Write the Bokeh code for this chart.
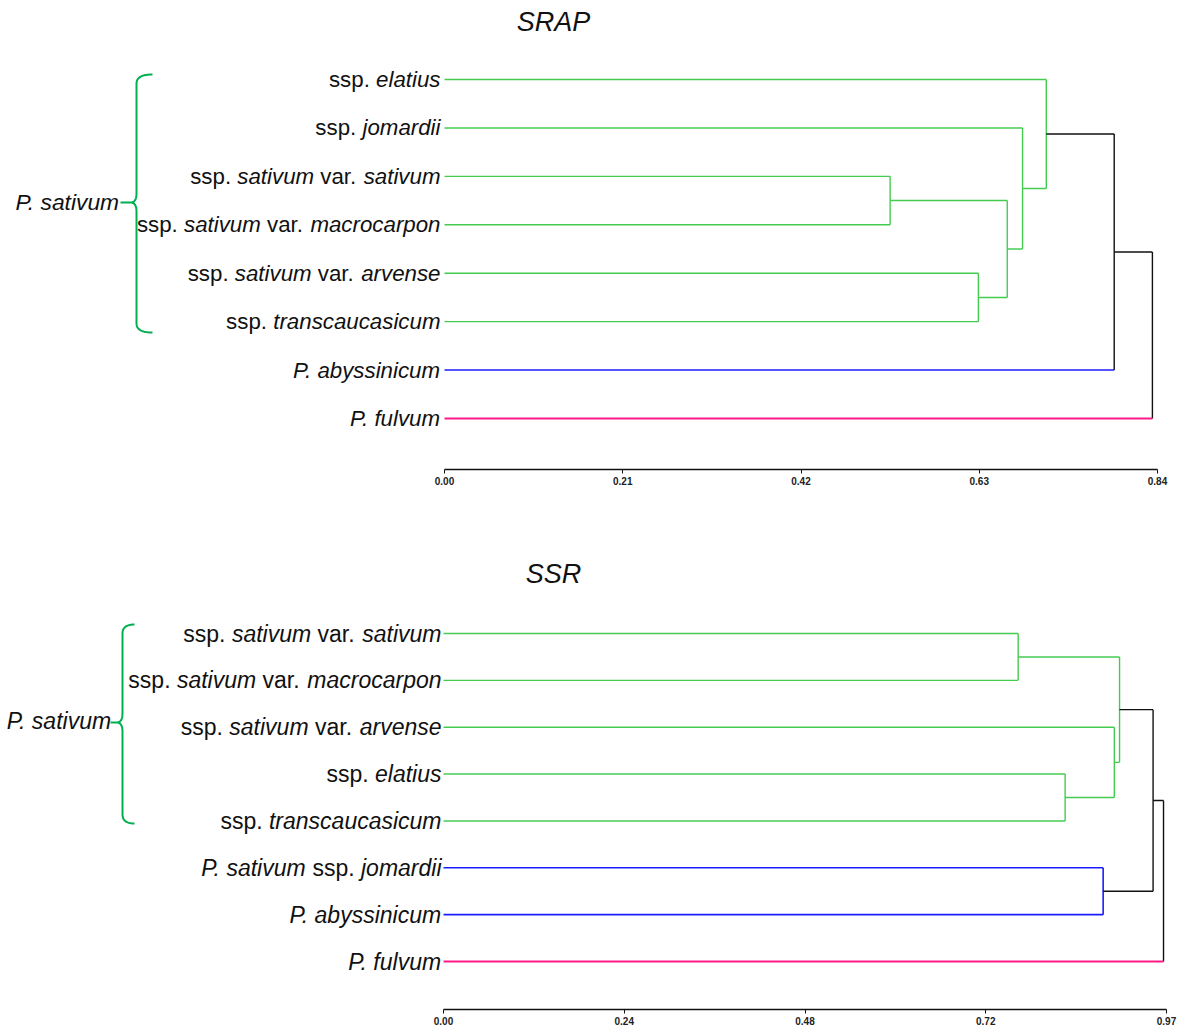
import numpy as np
from bokeh.plotting import figure
from bokeh.models import ColumnDataSource, LinearAxis, FixedTicker, Range1d
from bokeh.layouts import column
from bokeh.core.properties import value
from bokeh.embed import file_html
from bokeh.resources import INLINE

FONT = "Liberation Sans"
GREEN = "#44cc50"
BLUE = "#1c1cff"
PINK = "#ff1a88"
BLACK = "#111111"
BRACE_GREEN = "#00b050"
COLORS = {"g": GREEN, "b": BLUE, "p": PINK, "k": BLACK}
WIDTHS = {"g": 1.4, "b": 1.6, "p": 2.0, "k": 1.4}

PAGE_W = 1186

# ---------------- SRAP data ----------------
srap_title = "SRAP"
srap_leaves = ["ssp. *elatius*", "ssp. *jomardii*", "ssp. *sativum* var. *sativum*",
               "ssp. *sativum* var. *macrocarpon*", "ssp. *sativum* var. *arvense*",
               "ssp. *transcaucasicum*", "*P. abyssinicum*", "*P. fulvum*"]
srap_leaf_colors = ["g", "g", "g", "g", "g", "g", "b", "p"]
srap_merge_a = [2, 4, 8, 1, 0, 12, 13]
srap_merge_b = [3, 5, 9, 10, 11, 6, 7]
srap_heights = [0.525, 0.629, 0.663, 0.681, 0.709, 0.789, 0.834]
srap_merge_colors = ["g", "g", "g", "g", "g", "k", "k"]
srap_tick_pos = [0.0, 0.21, 0.42, 0.63, 0.84]
srap_tick_labels = ["0.00", "0.21", "0.42", "0.63", "0.84"]

# ---------------- SSR data ----------------
ssr_title = "SSR"
ssr_leaves = ["ssp. *sativum* var. *sativum*", "ssp. *sativum* var. *macrocarpon*",
              "ssp. *sativum* var. *arvense*", "ssp. *elatius*", "ssp. *transcaucasicum*",
              "*P. sativum* ssp. *jomardii*", "*P. abyssinicum*", "*P. fulvum*"]
ssr_leaf_colors = ["g", "g", "g", "g", "g", "b", "b", "p"]
ssr_merge_a = [0, 3, 2, 8, 5, 11, 13]
ssr_merge_b = [1, 4, 9, 10, 6, 12, 7]
ssr_heights = [0.771, 0.834, 0.900, 0.907, 0.885, 0.952, 0.966]
ssr_merge_colors = ["g", "g", "g", "g", "b", "k", "k"]
ssr_tick_pos = [0.0, 0.2425, 0.485, 0.7275, 0.97]
ssr_tick_labels = ["0.00", "0.24", "0.48", "0.72", "0.97"]

group_label = "*P. sativum*"

# Arial / Liberation Sans advance widths (per 1000 em)
AW = {' ': 278, '.': 278, 'P': 667, 'a': 556, 'b': 556, 'c': 500, 'd': 556, 'e': 556,
      'f': 278, 'g': 556, 'h': 556, 'i': 222, 'j': 222, 'k': 500, 'l': 222, 'm': 833,
      'n': 556, 'o': 556, 'p': 556, 'q': 556, 'r': 333, 's': 500, 't': 278, 'u': 556,
      'v': 500, 'w': 722, 'x': 500, 'y': 500, 'z': 500}


def tw(s, size):
    w = sum(AW.get(c, 556) for c in s)
    w -= 111 * s.count("P.")  # kerning pair
    return w * size / 1000.0


def segments(label):
    parts = label.split("*")
    return [(t, i % 2 == 1) for i, t in enumerate(parts) if t]


def rich_label(p, x, y, label, size, gap):
    """Right-aligned mixed roman/italic label ending gap px left of x."""
    segs = segments(label)
    total = sum(tw(t, size) for t, _ in segs)
    cursor = -gap - total
    xs, ys, txt, offs, styles = [], [], [], [], []
    for t, it in segs:
        lead = len(t) - len(t.lstrip(" "))
        body = t.strip(" ")
        if body:
            xs.append(x); ys.append(y); txt.append(body)
            offs.append(cursor + tw(" " * lead, size))
            styles.append("italic" if it else "normal")
        cursor += tw(t, size)
    src = ColumnDataSource(dict(x=xs, y=ys, text=txt, xo=offs, fs=styles))
    p.text(x="x", y="y", text="text", x_offset="xo", source=src,
           text_font=value(FONT), text_font_size=value(f"{size}px"),
           text_font_style="fs", text_align="left", text_baseline="middle",
           text_color="#111111")


def quad(p0, c, p1, n=14):
    t = np.linspace(0, 1, n)
    x = (1 - t) ** 2 * p0[0] + 2 * (1 - t) * t * c[0] + t ** 2 * p1[0]
    y = (1 - t) ** 2 * p0[1] + 2 * (1 - t) * t * c[1] + t ** 2 * p1[1]
    return list(x), list(y)


def build(title, leaves, leaf_colors, ma, mb, heights, mcolors, tick_pos, tick_labels,
          page_top, height, frame_bottom, x0_px, x_scale, leaf0_py, leaf_dy,
          label_size, label_gap, title_py, title_size, brace, group_right, group_py,
          group_size):
    def dx(px):
        return (px - x0_px) / x_scale

    def dy(py):
        return (py - leaf0_py) / leaf_dy

    p = figure(width=PAGE_W, height=height, output_backend="svg", toolbar_location=None,
               x_range=Range1d(dx(0), dx(PAGE_W)), y_range=Range1d(dy(frame_bottom), dy(page_top)),
               x_axis_location=None, y_axis_location=None,
               min_border_left=0, min_border_right=0, min_border_top=0,
               min_border_bottom=page_top + height - frame_bottom)
    p.outline_line_color = None
    p.xgrid.visible = False
    p.ygrid.visible = False
    p.background_fill_color = "white"
    p.border_fill_color = "white"

    n = len(leaves)
    nx = [0.0] * n + list(heights)
    ny = list(range(n)) + [0.0] * len(heights)
    xs0, ys0, xs1, ys1, cols, wids = [], [], [], [], [], []
    for k, (a, b, h, c) in enumerate(zip(ma, mb, heights, mcolors)):
        ny[n + k] = (ny[a] + ny[b]) / 2.0
        xs0.append(h); ys0.append(ny[a]); xs1.append(h); ys1.append(ny[b])
        cols.append(COLORS[c]); wids.append(WIDTHS[c])
        for ch in (a, b):
            cc = leaf_colors[ch] if ch < n else c
            xs0.append(nx[ch]); ys0.append(ny[ch]); xs1.append(h); ys1.append(ny[ch])
            cols.append(COLORS[cc]); wids.append(WIDTHS[cc])
    src = ColumnDataSource(dict(x0=xs0, y0=ys0, x1=xs1, y1=ys1, c=cols, w=wids))
    p.segment(x0="x0", y0="y0", x1="x1", y1="y1", line_color="c", line_width="w",
              source=src)

    for i, lab in enumerate(leaves):
        rich_label(p, 0.0, i, lab, label_size, label_gap)

    p.text(x=[dx(553)], y=[dy(title_py)], text=[title], text_font=value(FONT),
           text_font_size=value(f"{title_size}px"), text_font_style="italic",
           text_align="center", text_baseline="middle", text_color="#111111")

    bx_end, bx, btop, bbot, tipx, tipy = brace
    r = 9
    X, Y = [], []
    x_, y_ = quad((bx_end, btop), (bx, btop), (bx, btop + r)); X += x_; Y += y_
    x_, y_ = quad((bx, tipy - r), (bx, tipy), (bx - 6, tipy)); X += x_; Y += y_
    X += [tipx]; Y += [tipy]
    X += [np.nan]; Y += [np.nan]
    x_, y_ = quad((bx - 6, tipy), (bx, tipy), (bx, tipy + r)); X += x_; Y += y_
    x_, y_ = quad((bx, bbot - r), (bx, bbot), (bx_end, bbot)); X += x_; Y += y_
    p.line([dx(v) for v in X], [dy(v) if not np.isnan(v) else np.nan for v in Y],
           line_color=BRACE_GREEN, line_width=2)

    rich_label(p, dx(group_right), dy(group_py), group_label, group_size, 0)

    ax = LinearAxis(bounds=(tick_pos[0], tick_pos[-1]),
                    ticker=FixedTicker(ticks=tick_pos, minor_ticks=[]))
    ax.major_label_overrides = {t: l for t, l in zip(tick_pos, tick_labels)}
    ax.axis_line_color = "#111111"
    ax.axis_line_width = 1.6
    ax.major_tick_line_color = "#111111"
    ax.major_tick_out = 4
    ax.major_tick_in = 0
    ax.minor_tick_out = 0
    ax.minor_tick_in = 0
    ax.major_label_standoff = 3
    ax.major_label_text_font = "Liberation Sans"
    ax.major_label_text_font_style = "bold"
    ax.major_label_text_font_size = "10px"
    ax.major_label_text_color = "#222222"
    p.add_layout(ax, "below")
    return p


p1 = build(srap_title, srap_leaves, srap_leaf_colors, srap_merge_a, srap_merge_b,
           srap_heights, srap_merge_colors, srap_tick_pos, srap_tick_labels,
           page_top=0, height=520, frame_bottom=469, x0_px=444, x_scale=(1157 - 444) / 0.84,
           leaf0_py=79, leaf_dy=(418 - 79) / 7.0, label_size=22.3, label_gap=4,
           title_py=21, title_size=27,
           brace=(152, 136, 74, 332, 120, 202), group_right=119, group_py=201,
           group_size=22.8)

p2 = build(ssr_title, ssr_leaves, ssr_leaf_colors, ssr_merge_a, ssr_merge_b,
           ssr_heights, ssr_merge_colors, ssr_tick_pos, ssr_tick_labels,
           page_top=520, height=508, frame_bottom=1009, x0_px=443, x_scale=(1166 - 443) / 0.97,
           leaf0_py=633, leaf_dy=(961 - 633) / 7.0, label_size=23, label_gap=2,
           title_py=573, title_size=27,
           brace=(134, 122, 624, 823, 110, 722), group_right=111, group_py=720,
           group_size=23)

layout = column(p1, p2, spacing=0)
open("out.html", "w").write(file_html(layout, INLINE))
